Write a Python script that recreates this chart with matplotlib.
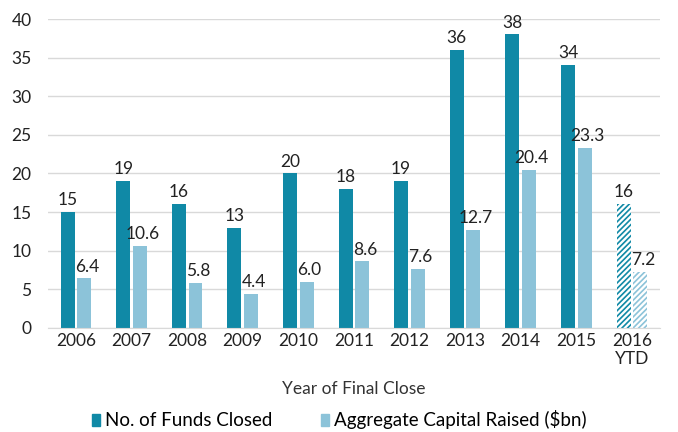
import numpy as np
import matplotlib.pyplot as plt

# data
years = ['2006', '2007', '2008', '2009', '2010', '2011', '2012', '2013', '2014', '2015', '2016\nYTD']
funds_closed = [15, 19, 16, 13, 20, 18, 19, 36, 38, 34, 16]
capital_raised = [6.4, 10.6, 5.8, 4.4, 6.0, 8.6, 7.6, 12.7, 20.4, 23.3, 7.2]

dark = '#1089a6'
light = '#8cc3d9'

plt.rcParams['font.family'] = ['Lato', 'DejaVu Sans']
plt.rcParams['hatch.linewidth'] = 1.2

fig = plt.figure(figsize=(6.78, 4.32), dpi=100)
ax = fig.add_axes([0.071, 0.241, 0.902, 0.715])

x = np.arange(len(years))
w = 0.25
off = 0.15

for i in range(len(years)):
    ytd = i == len(years) - 1
    if ytd:
        ax.bar(x[i] - off, funds_closed[i], w, color='white', edgecolor=dark, hatch='//////', linewidth=0)
        ax.bar(x[i] + off, capital_raised[i], w, color='white', edgecolor=light, hatch='//////', linewidth=0)
    else:
        ax.bar(x[i] - off, funds_closed[i], w, color=dark)
        ax.bar(x[i] + off, capital_raised[i], w, color=light)
    ax.text(x[i] - off, funds_closed[i] + 0.5, f'{funds_closed[i]:g}', ha='center', va='bottom', fontsize=12.5, color='#222222')
    ax.text(x[i] + off + 0.05, capital_raised[i] + 0.5, f'{capital_raised[i]:.1f}', ha='center', va='bottom', fontsize=12.5, color='#222222')

ax.set_ylim(0, 40)
ax.set_yticks(range(0, 41, 5))
ax.set_xlim(-0.5, len(years) - 0.5)
ax.set_xticks(x)
ax.set_xticklabels(years)
ax.tick_params(axis='both', length=0, labelsize=12.5, colors='#222222')
ax.tick_params(axis='y', pad=12)
ax.yaxis.grid(True, color='#d9d9d9', linewidth=1)
ax.set_axisbelow(True)
for s in ['top', 'right', 'left']:
    ax.spines[s].set_visible(False)
ax.spines['bottom'].set_color('#d9d9d9')

ax.set_xlabel('Year of Final Close', fontsize=12.5, color='#333333', labelpad=10)

h1 = plt.Rectangle((0, 0), 1, 1, color=dark)
h2 = plt.Rectangle((0, 0), 1, 1, color=light)
fig.legend([h1, h2], ['No. of Funds Closed', 'Aggregate Capital Raised ($bn)'],
           loc='center', bbox_to_anchor=(0.5, 0.028), ncol=2, frameon=False,
           fontsize=13.5, handlelength=0.45, handleheight=0.6, handletextpad=0.25, columnspacing=2.6)

fig.savefig('out.png', dpi=100)
